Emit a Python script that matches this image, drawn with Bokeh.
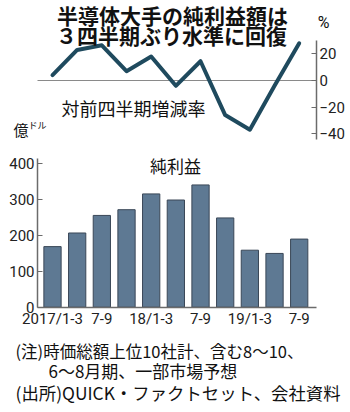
from bokeh.plotting import figure
from bokeh.models import Range1d, LinearAxis, FixedTicker, Label
from bokeh.embed import file_html
from bokeh.resources import INLINE

# ---- data ----
quarters = ["2017/1-3", "4-6", "7-9", "10-12", "18/1-3", "4-6", "7-9", "10-12",
            "19/1-3", "4-6", "7-9"]
net_profit = [169, 207, 256, 272, 316, 299, 341, 249, 159, 150, 190]   # 億ドル
qoq_change = [4, 23, 26.5, 7, 18, -4, 14.5, -26, -37, -4, 28]           # %
tick_idx = [0, 2, 4, 6, 8, 10]
tick_labels = ["2017/1-3", "7-9", "18/1-3", "7-9", "19/1-3", "7-9"]
bar_ticks = [0, 100, 200, 300, 400]
pct_ticks = [-40, -20, 0, 20]

# ---- layout constants (page pixels) ----
W, H = 350, 412
X0_PX, DX_PX = 52.0, 24.67          # centre of first bar, bar pitch
BAR0_PX, BAR_PX = 306.7, 0.3585     # bar baseline, px per 億ドル
PCT0_PX, PCT_PX = 80.0, 1.33        # pct zero line, px per %
AX_L_PX, AX_R_PX = 37.0, 316.0      # left / right axis positions

def xi(px):  # page px -> index coordinate
    return (px - X0_PX) / DX_PX

xs = list(range(len(quarters)))
x_left, x_right = xi(AX_L_PX), xi(AX_R_PX)

p = figure(width=W, height=H, output_backend="svg", toolbar_location=None, title=None,
           x_range=Range1d(xi(0), xi(W)),
           y_range=Range1d((BAR0_PX - H) / BAR_PX, BAR0_PX / BAR_PX),
           min_border=0, min_border_left=0, min_border_right=0,
           min_border_top=0, min_border_bottom=0)
p.outline_line_color = None
p.background_fill_color = "white"
p.border_fill_color = "white"
p.grid.visible = False
p.axis.visible = False

p.extra_y_ranges = {"pct": Range1d((PCT0_PX - H) / PCT_PX, PCT0_PX / PCT_PX),
                    "sy": Range1d(H, 0)}
p.extra_x_ranges = {"sx": Range1d(0, W)}

NUM_FONT = "Roboto"
JP = "Noto Sans CJK JP"
AX = "#6b6b6b"

def style_axis(a):
    a.minor_tick_line_color = None
    a.axis_line_color = AX
    a.axis_line_width = 1.5
    a.major_tick_line_color = AX
    a.major_label_text_font = NUM_FONT
    a.major_label_text_font_size = "15px"
    a.major_label_text_color = "#222"
    a.major_label_standoff = 3

# left axis (bars)
la = LinearAxis(ticker=FixedTicker(ticks=bar_ticks), bounds=(0, 415),
                fixed_location=x_left)
style_axis(la)
la.major_tick_in = 5
la.major_tick_out = 0
p.add_layout(la, "left")

# right axis (pct)
ra = LinearAxis(y_range_name="pct", ticker=FixedTicker(ticks=pct_ticks),
                bounds=(-44, 30), fixed_location=x_right)
style_axis(ra)
ra.major_tick_in = 5
ra.major_tick_out = 0
p.add_layout(ra, "right")

# bottom axis
ba = LinearAxis(ticker=FixedTicker(ticks=tick_idx), bounds=(x_left, x_right),
                fixed_location=0)
style_axis(ba)
ba.major_label_overrides = {i: t for i, t in zip(tick_idx, tick_labels)}
ba.major_tick_in = 0
ba.major_tick_out = 0
p.add_layout(ba, "below")

# bars
p.vbar(x=xs, top=net_profit, width=0.70, bottom=0,
       fill_color="#5e7993", line_color="#3a4757", line_width=1)

# zero line of pct chart
p.segment(x0=[x_left], y0=[0], x1=[x_right], y1=[0], y_range_name="pct",
          line_color="#8a8a8a", line_width=1)

# pct line
p.line(x=xs, y=qoq_change, y_range_name="pct", line_color="#1f4a5e",
       line_width=4, line_join="round", line_cap="round")

def lab(x, y, text, size, align="left", bold=False, font=JP, color="#111"):
    p.add_layout(Label(x=x, y=y, x_range_name="sx", y_range_name="sy",
                       text=text, text_font=font, text_font_size=f"{size}px",
                       text_font_style="bold" if bold else "normal",
                       text_align=align, text_baseline="middle",
                       text_color=color))

lab(172, 14, "半導体大手の純利益額は", 21, "center", True)
lab(171, 34, "３四半期ぶり水準に回復", 21, "center", True)
lab(323, 22, "%", 16, "center", font=NUM_FONT)
lab(133, 107, "対前四半期増減率", 18, "center")
lab(13, 129, "億", 15)
lab(28, 125, "ドル", 9)
lab(175, 165, "純利益", 17, "center")
lab(15, 350, "(注)時価総額上位10社計、含む8～10、", 16.5)
lab(48, 370, "6～8月期、一部市場予想", 17)
lab(15, 392, "(出所)QUICK・ファクトセット、会社資料", 17.4)

open("out.html", "w").write(file_html(p, INLINE))
